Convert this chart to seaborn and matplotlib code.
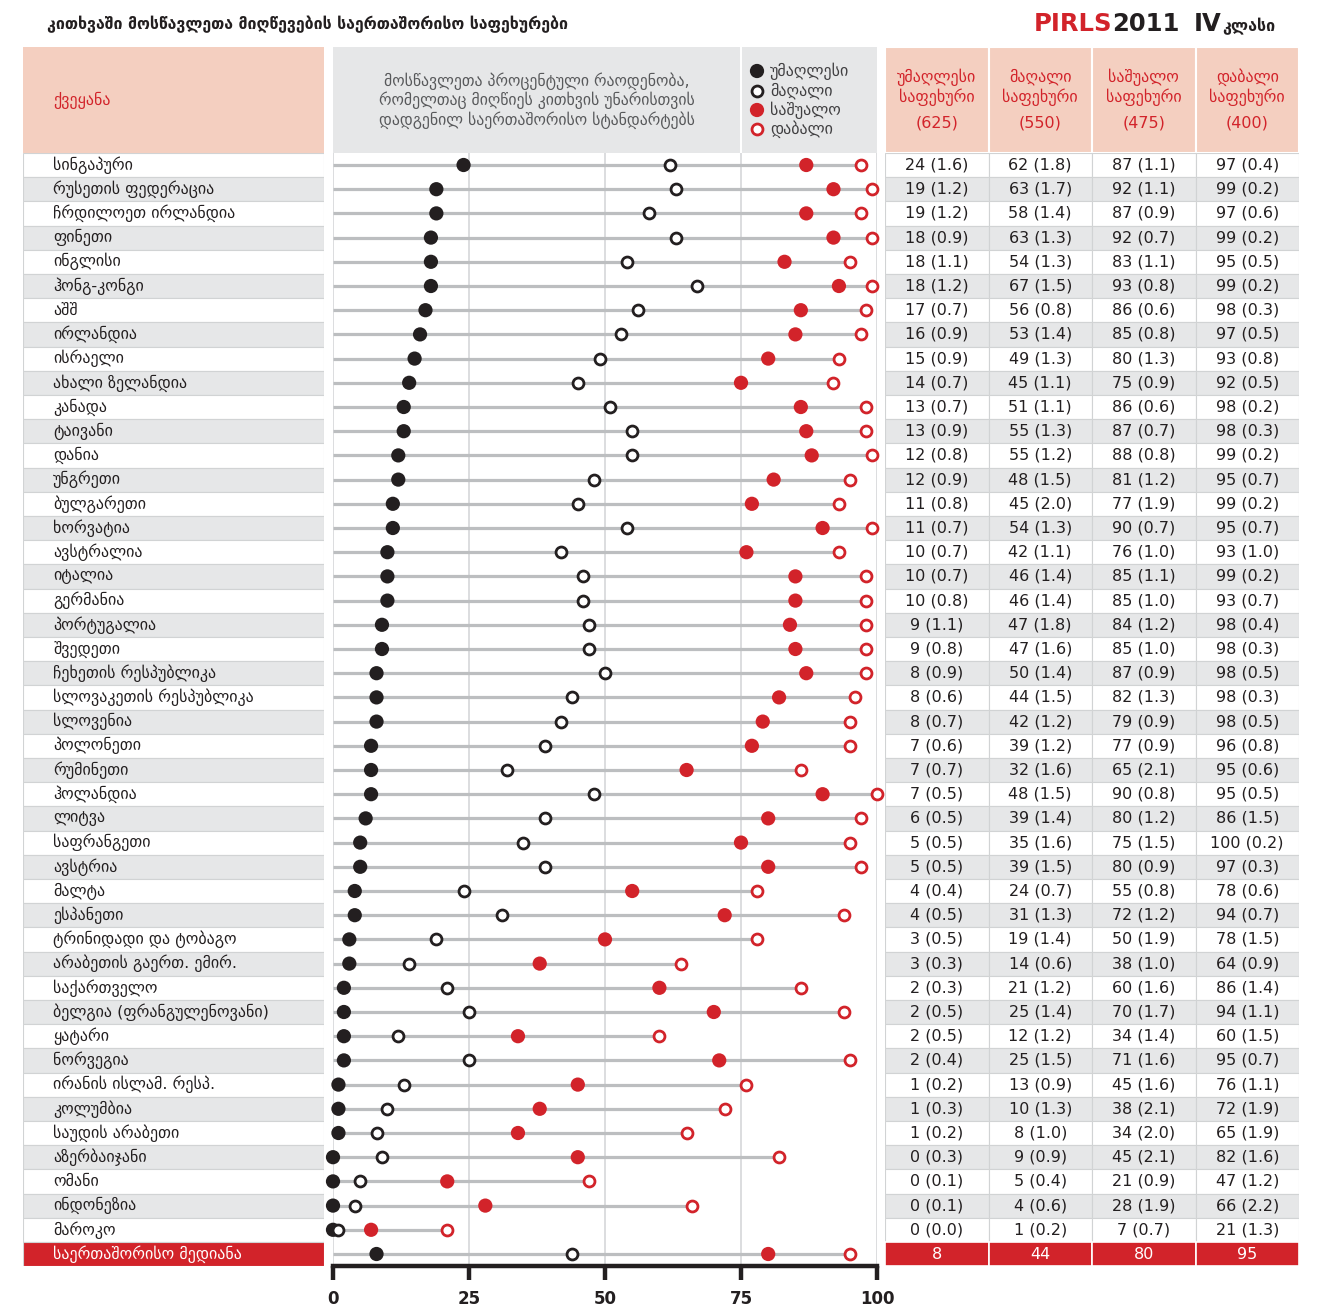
import matplotlib
matplotlib.use("Agg")
import matplotlib.pyplot as plt
import seaborn as sns
import numpy as np
import pandas as pd
from matplotlib.patches import Rectangle

# ---------------- data ----------------
countries = [
    "სინგაპური", "რუსეთის ფედერაცია", "ჩრდილოეთ ირლანდია", "ფინეთი", "ინგლისი",
    "ჰონგ-კონგი", "აშშ", "ირლანდია", "ისრაელი", "ახალი ზელანდია",
    "კანადა", "ტაივანი", "დანია", "უნგრეთი", "ბულგარეთი",
    "ხორვატია", "ავსტრალია", "იტალია", "გერმანია", "პორტუგალია",
    "შვედეთი", "ჩეხეთის რესპუბლიკა", "სლოვაკეთის რესპუბლიკა", "სლოვენია", "პოლონეთი",
    "რუმინეთი", "ჰოლანდია", "ლიტვა", "საფრანგეთი", "ავსტრია",
    "მალტა", "ესპანეთი", "ტრინიდადი და ტობაგო", "არაბეთის გაერთ. ემირ.", "საქართველო",
    "ბელგია (ფრანგულენოვანი)", "ყატარი", "ნორვეგია", "ირანის ისლამ. რესპ.", "კოლუმბია",
    "საუდის არაბეთი", "აზერბაიჯანი", "ომანი", "ინდონეზია", "მაროკო",
]
advanced = [24, 19, 19, 18, 18, 18, 17, 16, 15, 14, 13, 13, 12, 12, 11, 11, 10, 10, 10, 9,
            9, 8, 8, 8, 7, 7, 7, 6, 5, 5, 4, 4, 3, 3, 2, 2, 2, 2, 1, 1, 1, 0, 0, 0, 0]
advanced_se = [1.6, 1.2, 1.2, 0.9, 1.1, 1.2, 0.7, 0.9, 0.9, 0.7, 0.7, 0.9, 0.8, 0.9, 0.8,
               0.7, 0.7, 0.7, 0.8, 1.1, 0.8, 0.9, 0.6, 0.7, 0.6, 0.7, 0.5, 0.5, 0.5, 0.5,
               0.4, 0.5, 0.5, 0.3, 0.3, 0.5, 0.5, 0.4, 0.2, 0.3, 0.2, 0.3, 0.1, 0.1, 0.0]
high = [62, 63, 58, 63, 54, 67, 56, 53, 49, 45, 51, 55, 55, 48, 45, 54, 42, 46, 46, 47,
        47, 50, 44, 42, 39, 32, 48, 39, 35, 39, 24, 31, 19, 14, 21, 25, 12, 25, 13, 10, 8, 9, 5, 4, 1]
high_se = [1.8, 1.7, 1.4, 1.3, 1.3, 1.5, 0.8, 1.4, 1.3, 1.1, 1.1, 1.3, 1.2, 1.5, 2.0,
           1.3, 1.1, 1.4, 1.4, 1.8, 1.6, 1.4, 1.5, 1.2, 1.2, 1.6, 1.5, 1.4, 1.6, 1.5,
           0.7, 1.3, 1.4, 0.6, 1.2, 1.4, 1.2, 1.5, 0.9, 1.3, 1.0, 0.9, 0.4, 0.6, 0.2]
intermediate = [87, 92, 87, 92, 83, 93, 86, 85, 80, 75, 86, 87, 88, 81, 77, 90, 76, 85, 85, 84,
                85, 87, 82, 79, 77, 65, 90, 80, 75, 80, 55, 72, 50, 38, 60, 70, 34, 71, 45, 38,
                34, 45, 21, 28, 7]
intermediate_se = [1.1, 1.1, 0.9, 0.7, 1.1, 0.8, 0.6, 0.8, 1.3, 0.9, 0.6, 0.7, 0.8, 1.2, 1.9,
                   0.7, 1.0, 1.1, 1.0, 1.2, 1.0, 0.9, 1.3, 0.9, 0.9, 2.1, 0.8, 1.2, 1.5, 0.9,
                   0.8, 1.2, 1.9, 1.0, 1.6, 1.7, 1.4, 1.6, 1.6, 2.1, 2.0, 2.1, 0.9, 1.9, 0.7]
low = [97, 99, 97, 99, 95, 99, 98, 97, 93, 92, 98, 98, 99, 95, 99, 95, 93, 99, 93, 98,
       98, 98, 98, 98, 96, 95, 95, 86, 100, 97, 78, 94, 78, 64, 86, 94, 60, 95, 76, 72,
       65, 82, 47, 66, 21]
low_se = [0.4, 0.2, 0.6, 0.2, 0.5, 0.2, 0.3, 0.5, 0.8, 0.5, 0.2, 0.3, 0.2, 0.7, 0.2,
          0.7, 1.0, 0.2, 0.7, 0.4, 0.3, 0.5, 0.3, 0.5, 0.8, 0.6, 0.5, 1.5, 0.2, 0.3,
          0.6, 0.7, 1.5, 0.9, 1.4, 1.1, 1.5, 0.7, 1.1, 1.9, 1.9, 1.6, 1.2, 2.2, 1.3]
# low-benchmark dots as they are drawn in the dot panel of the reference
low_marker = [97, 99, 97, 99, 95, 99, 98, 97, 93, 92, 98, 98, 99, 95, 93, 99, 93, 98, 98, 98,
              98, 98, 96, 95, 95, 86, 100, 97, 95, 97, 78, 94, 78, 64, 86, 94, 60, 95, 76, 72,
              65, 82, 47, 66, 21]
median_label = "საერთაშორისო მედიანა"
median_vals = [8, 44, 80, 95]

level_names = ["უმაღლესი", "მაღალი", "საშუალო", "დაბალი"]
level_scores = ["(625)", "(550)", "(475)", "(400)"]
x_ticks = [0, 25, 50, 75, 100]

# ---------------- styling ----------------
sns.set_theme(style="white")
plt.rcParams["font.family"] = ["DejaVu Sans"]

BLACK = "#231f20"
RED = "#d2232a"
PINK = "#f4cfc0"
GRAY = "#e6e7e8"
LINE = "#bcbec0"
BORDER = "#d1d3d4"

W, H = 1322, 1308
fig = plt.figure(figsize=(W / 100, H / 100), dpi=100)
fig.patch.set_facecolor("white")


def rect(x0, y0, x1, y1):
    return [x0 / W, 1 - y1 / H, (x1 - x0) / W, (y1 - y0) / H]


n = len(countries) + 1
rows = np.arange(n)
row_h = 24.2
top = 165 - row_h / 2
bottom = top + n * row_h

all_labels = countries + [median_label]
adv_all = advanced + [median_vals[0]]
high_all = high + [median_vals[1]]
inter_all = intermediate + [median_vals[2]]
lowm_all = low_marker + [median_vals[3]]

row_colors = [GRAY if i % 2 == 1 else "white" for i in range(n)]
row_colors[-1] = RED

# ---------------- background / header axes ----------------
bg = fig.add_axes([0, 0, 1, 1])
bg.set_xlim(0, W)
bg.set_ylim(H, 0)
bg.axis("off")

bg.text(47, 24, "კითხვაში მოსწავლეთა მიღწევების საერთაშორისო საფეხურები",
        fontsize=11.4, fontweight="bold", color=BLACK, va="center", ha="left")

# "PIRLS2011" written as two adjacent pieces with no gap
renderer = fig.canvas.get_renderer()
t_pirls = bg.text(1034, 31, "PIRLS", fontsize=17.5, fontweight="bold", color=RED,
                  va="baseline")
ext = t_pirls.get_window_extent(renderer=renderer)
x_after = bg.transData.inverted().transform((ext.x1, 0))[0]
bg.text(x_after, 31, "2011", fontsize=17.5, fontweight="bold", color=BLACK, va="baseline")
bg.text(1194, 31, "IV", fontsize=17.5, fontweight="bold", color=BLACK, va="baseline")
bg.text(1222, 31, "კლასი", fontsize=11.5, fontweight="bold", color=BLACK, va="baseline")

hy0, hy1 = 47, 153
bg.add_patch(Rectangle((23, hy0), 301, hy1 - hy0, fc=PINK, ec="none"))
bg.text(53, 100, "ქვეყანა", fontsize=11.5, color=RED, va="center", ha="left")

bg.add_patch(Rectangle((333, hy0), 407, hy1 - hy0, fc=GRAY, ec="none"))
bg.add_patch(Rectangle((742, hy0), 135, hy1 - hy0, fc=GRAY, ec="none"))
for k, line in enumerate(["მოსწავლეთა პროცენტული რაოდენობა,",
                          "რომელთაც მიღწიეს კითხვის უნარისთვის",
                          "დადგენილ საერთაშორისო სტანდარტებს"]):
    bg.text(537, 81 + k * 19.5, line, fontsize=11.3, color="#58595b",
            ha="center", va="center")

leg_y = [71, 91, 110, 129]
bg.scatter([757], [leg_y[0]], s=105, color=BLACK, edgecolor="none", zorder=3)
bg.scatter([757], [leg_y[1]], s=62, color="white", edgecolor=BLACK, linewidth=2.0, zorder=3)
bg.scatter([757], [leg_y[2]], s=105, color=RED, edgecolor="none", zorder=3)
bg.scatter([757], [leg_y[3]], s=62, color="white", edgecolor=RED, linewidth=2.0, zorder=3)
for yy, name in zip(leg_y, level_names):
    bg.text(770, yy, name, fontsize=11.5, color="#414042", va="center", ha="left")

col_w = (1299 - 885) / 4
for j in range(4):
    x0 = 885 + j * col_w
    bg.add_patch(Rectangle((x0, hy0), col_w, hy1 - hy0, fc=PINK, ec="white", lw=1.5))
    cx = x0 + col_w / 2
    bg.text(cx, 77, level_names[j], fontsize=11.5, color=RED, ha="center", va="center")
    bg.text(cx, 97, "საფეხური", fontsize=11.5, color=RED, ha="center", va="center")
    bg.text(cx, 123, level_scores[j], fontsize=11.5, color=RED, ha="center", va="center")

# ---------------- country names ----------------
nax = fig.add_axes(rect(23, top, 324, bottom))
nax.set_xlim(0, 1)
nax.set_ylim(n - 0.5, -0.5)
nax.barh(rows, 1, left=0, height=1, color=row_colors, edgecolor=BORDER, linewidth=0.8)
for i, lab in enumerate(all_labels):
    nax.text(0.1, i, lab, fontsize=11.5, va="center", ha="left",
             color="white" if i == n - 1 else BLACK)
nax.axis("off")

# ---------------- dot plot ----------------
ax = fig.add_axes(rect(333, top, 877, bottom))
ax.set_facecolor("white")
ax.set_xlim(0, 100)
ax.set_ylim(n - 0.5, -0.5)
for xv in x_ticks:
    ax.axvline(xv, color="#dcdddf", lw=1.4, zorder=0)
ax.hlines(rows, 0, lowm_all, color=LINE, lw=2.3, zorder=1)

sns.scatterplot(x=adv_all, y=rows, ax=ax, color=BLACK, s=105, edgecolor="none",
                zorder=3, clip_on=False)
sns.scatterplot(x=high_all, y=rows, ax=ax, color="white", edgecolor=BLACK, linewidth=2.0,
                s=62, zorder=4, clip_on=False)
sns.scatterplot(x=inter_all, y=rows, ax=ax, color=RED, s=105, edgecolor="none",
                zorder=3, clip_on=False)
sns.scatterplot(x=lowm_all, y=rows, ax=ax, color="white", edgecolor=RED, linewidth=2.0,
                s=62, zorder=4, clip_on=False)

for s in ["left", "right", "top"]:
    ax.spines[s].set_visible(False)
ax.spines["bottom"].set_color(BLACK)
ax.spines["bottom"].set_linewidth(3.2)
ax.set_yticks([])
ax.set_xticks(x_ticks)
ax.set_xticklabels([str(t) for t in x_ticks], fontweight="bold", fontsize=12, color=BLACK)
ax.tick_params(axis="x", length=10, width=3.2, color=BLACK, pad=7, bottom=True)
ax.set_xlabel("")
ax.set_ylabel("")

# ---------------- table ----------------
tab = fig.add_axes(rect(885, top, 1299, bottom))
tab.set_xlim(0, 4)
tab.set_ylim(n - 0.5, -0.5)
cols_vals = [advanced, high, intermediate, low]
cols_se = [advanced_se, high_se, intermediate_se, low_se]
for j in range(4):
    tab.barh(rows[:-1], 1, left=j, height=1, color=row_colors[:-1],
             edgecolor=BORDER, linewidth=0.8)
    tab.barh([rows[-1]], 1, left=j, height=1, color=RED, edgecolor="white", linewidth=1.2)
    for i in range(n - 1):
        tab.text(j + 0.5, i, f"{cols_vals[j][i]} ({cols_se[j][i]:.1f})", fontsize=11.5,
                 ha="center", va="center", color=BLACK)
    tab.text(j + 0.5, n - 1, str(median_vals[j]), fontsize=11.5, ha="center",
             va="center", color="white")
tab.axis("off")

fig.savefig("out.png", dpi=100, facecolor="white")
